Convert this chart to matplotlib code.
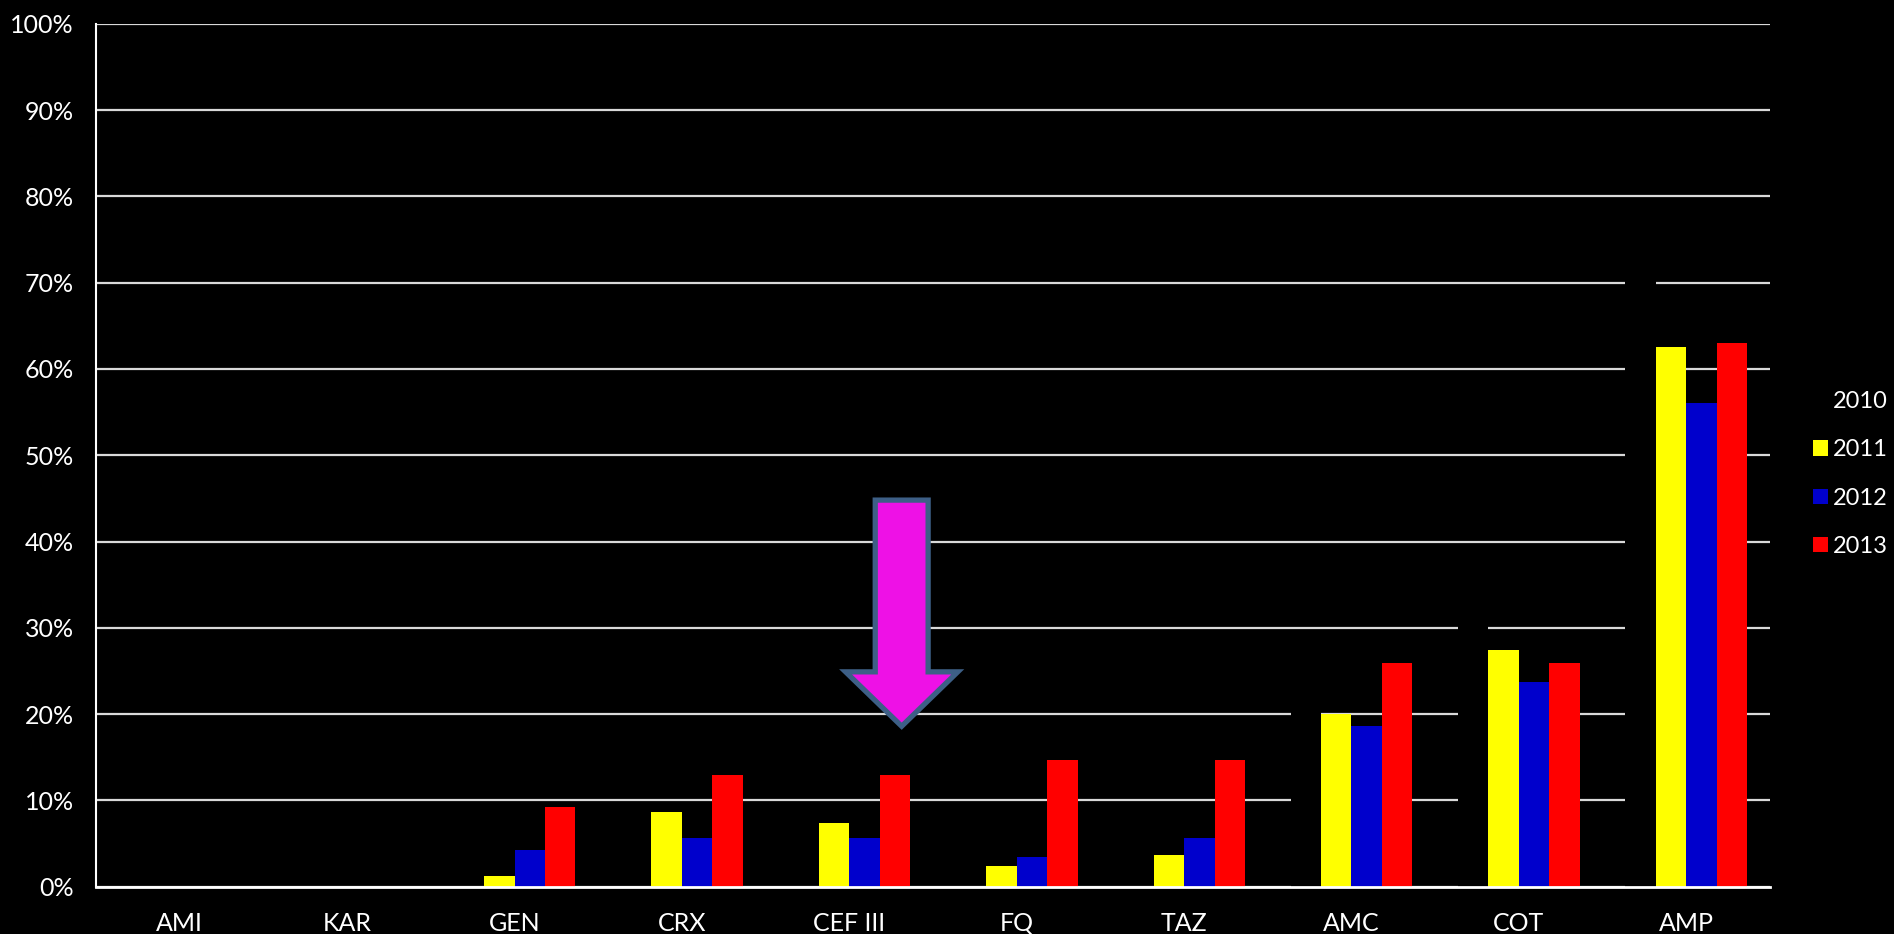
import numpy as np
import matplotlib.pyplot as plt
from matplotlib.patches import Polygon

plt.rcParams['font.family'] = ['Lato', 'DejaVu Sans']

# resistance rates (%) per antibiotic and year
antibiotics = ["AMI", "KAR", "GEN", "CRX", "CEF III", "FQ", "TAZ", "AMC", "COT", "AMP"]
years = ["2010", "2011", "2012", "2013"]
r2010 = [0, 0, 0, 0, 0, 0, 0, 24, 34, 74]
r2011 = [0, 0, 1.2, 8.7, 7.4, 2.4, 3.7, 20.0, 27.4, 62.5]
r2012 = [0, 0, 4.3, 5.7, 5.7, 3.5, 5.7, 18.6, 23.7, 56.1]
r2013 = [0, 0, 9.2, 12.9, 12.9, 14.7, 14.7, 25.9, 25.9, 63.0]
colors = ["#000000", "#FFFF00", "#0000CC", "#FF0000"]

fig = plt.figure(figsize=(18.94, 9.34), dpi=100, facecolor="black")
ax = fig.add_axes([0.0507, 0.0506, 0.8838, 0.924])
ax.set_facecolor("black")

x = np.arange(len(antibiotics))
w = 1 / 5.5
for i, (vals, col, lab) in enumerate(zip([r2010, r2011, r2012, r2013], colors, years)):
    ax.bar(x + (i - 1.5) * w, vals, width=w, color=col, label=lab, zorder=2, linewidth=0)

ax.set_xlim(-0.5, len(antibiotics) - 0.5)
ax.set_ylim(0, 100)
ax.set_yticks(np.arange(0, 101, 10))
ax.set_yticklabels([f"{v}%" for v in range(0, 101, 10)])
ax.set_xticks(x)
ax.set_xticklabels(antibiotics)
ax.tick_params(axis="y", length=0, pad=16, labelsize=18, colors="white")
ax.tick_params(axis="x", length=0, pad=18, labelsize=18, colors="white")

ax.set_axisbelow(True)
ax.yaxis.grid(True, color="#d9d9d9", linewidth=1.6, zorder=0)
for s in ["top", "right"]:
    ax.spines[s].set_visible(False)
ax.spines["left"].set_color("white")
ax.spines["left"].set_linewidth(1.5)
ax.spines["bottom"].set_color("white")
ax.spines["bottom"].set_linewidth(2)
ax.spines["bottom"].set_zorder(3)

# arrow pointing at the 2013 CEF III bar
ax_x = 4.313
arrow = Polygon([(ax_x - 0.158, 44.8), (ax_x + 0.158, 44.8), (ax_x + 0.158, 24.9),
                 (ax_x + 0.335, 24.9), (ax_x, 18.6), (ax_x - 0.335, 24.9),
                 (ax_x - 0.158, 24.9)],
                closed=True, facecolor="#EE11E6", edgecolor="#3D5F86",
                linewidth=3.8, joinstyle="miter", zorder=4)
ax.add_patch(arrow)

leg = ax.legend(loc="center left", bbox_to_anchor=(0.9512, 0.4925),
                bbox_transform=fig.transFigure, frameon=False, fontsize=17,
                labelcolor="white", handlelength=0.62, handleheight=0.62,
                handletextpad=0.2, labelspacing=1.16, borderpad=0)

plt.savefig("out.png", facecolor="black")
